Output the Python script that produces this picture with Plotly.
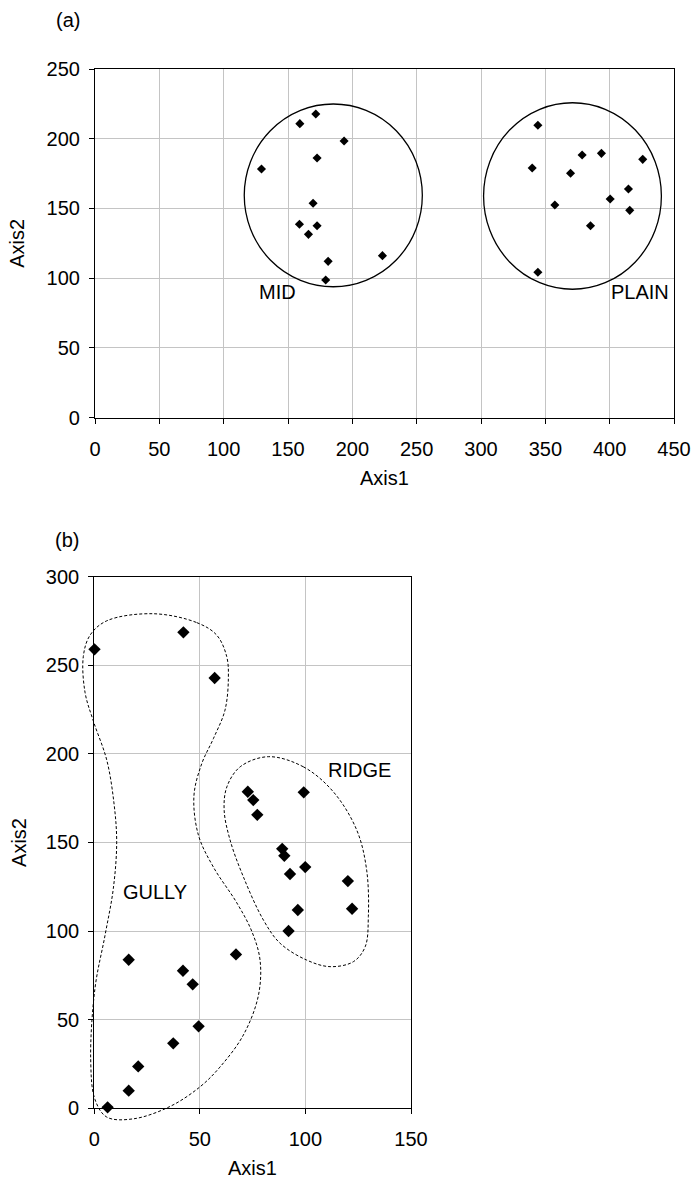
import plotly.graph_objects as go

# ---------------- data: panel (a) ----------------
MID_X = [171.6, 159.2, 193.6, 172.6, 129.4, 169.5, 158.9, 172.6, 165.9, 223.4, 181.2, 179.3]
MID_Y = [217.7, 210.8, 198.3, 186.2, 178.3, 153.7, 138.6, 137.6, 131.4, 116.1, 112.0, 98.6]
PLAIN_X = [344.2, 378.6, 393.6, 425.7, 339.8, 369.6, 414.6, 400.4, 415.6, 357.4, 385.1, 344.2]
PLAIN_Y = [209.6, 188.3, 189.5, 185.2, 179.0, 175.2, 163.9, 156.7, 148.6, 152.4, 137.6, 104.2]
# group boundary circles: [x0, x1, y0, y1]
MID_BOUNDS = [116.0, 254.4, 93.8, 224.9]
PLAIN_BOUNDS = [302.0, 440.2, 92.0, 225.8]

# ---------------- data: panel (b) ----------------
GULLY_X = [0.1, 42.2, 57.0, 16.3, 42.0, 46.6, 67.1, 49.4, 37.4, 20.8, 16.3, 6.3]
GULLY_Y = [259.0, 268.6, 242.8, 83.8, 77.6, 69.9, 86.8, 46.2, 36.6, 23.6, 9.9, 0.5]
RIDGE_X = [72.7, 75.3, 77.2, 99.2, 89.0, 90.0, 99.9, 92.7, 120.1, 96.4, 92.0, 122.1]
RIDGE_Y = [178.6, 173.9, 165.6, 178.3, 146.4, 142.5, 136.1, 132.2, 128.2, 111.9, 100.0, 112.6]

# group boundary outlines (dashed)
GULLY_CX = [27.9, 48.5, 58.0, 62.7, 63.5, 61.9, 56.4, 50.9, 47.2, 49.3, 56.4, 67.5, 74.6,
            78.5, 77.7, 70.6, 59.5, 50.1, 35.9, 18.5, 5.9, 0.3, -1.7, 0.3, 5.1, 9.0, 10.6,
            9.3, 5.9, -0.5, -4.4, -5.2, -2.0, 5.9]
GULLY_CY = [279.1, 274.1, 267.0, 255.0, 242.8, 224.7, 208.6, 194.5, 176.4, 154.2, 136.1,
            115.9, 99.8, 83.6, 63.5, 41.3, 23.2, 12.1, 1.0, -6.0, -5.0, 5.0, 27.2, 67.5,
            97.7, 123.9, 150.2, 172.3, 196.5, 218.7, 234.8, 255.0, 267.0, 275.1]
RIDGE_CX = [82.4, 99.0, 113.2, 124.3, 129.0, 129.8, 128.3, 122.7, 111.7, 100.6, 88.0, 80.1,
            70.6, 64.3, 61.5, 62.8, 69.1]
RIDGE_CY = [198.4, 192.7, 178.6, 157.0, 134.4, 108.1, 91.1, 82.7, 79.9, 83.6, 93.1, 106.2,
            130.6, 151.4, 168.3, 181.4, 192.7]

A_XRANGE, A_YRANGE = [0, 450], [0, 250]
B_XRANGE, B_YRANGE = [0, 150], [0, 300]

# ---------------- layout geometry (pixels) ----------------
W, H = 697, 1180
A_PX = [95, 674]
A_PY = [69, 417.5]
B_PX = [94.3, 411]
B_PY = [576.7, 1108.2]
FONT = "Liberation Sans, Arial, sans-serif"
FS = 20


def dx(a, b):
    return [a / W, b / W]


def dy(top, bottom):
    return [1 - bottom / H, 1 - top / H]


# extended (unclipped) axes for panel (b) outlines, same scale as panel (b)
EXT_X = [-15, 165]
EXT_Y = [-20, 320]
sx = (B_PX[1] - B_PX[0]) / (B_XRANGE[1] - B_XRANGE[0])
sy = (B_PY[1] - B_PY[0]) / (B_YRANGE[1] - B_YRANGE[0])
EXT_PX = [B_PX[0] + (EXT_X[0] - B_XRANGE[0]) * sx, B_PX[1] + (EXT_X[1] - B_XRANGE[1]) * sx]
EXT_PY = [B_PY[0] - (EXT_Y[1] - B_YRANGE[1]) * sy, B_PY[1] - (EXT_Y[0] - B_YRANGE[0]) * sy]

fig = go.Figure()

diamond_a = dict(symbol="diamond", size=7, color="black", line=dict(width=0))
diamond_b = dict(symbol="diamond", size=9.5, color="black", line=dict(width=0))

fig.add_trace(go.Scatter(x=MID_X, y=MID_Y, mode="markers", marker=diamond_a,
                         xaxis="x", yaxis="y", showlegend=False, cliponaxis=False))
fig.add_trace(go.Scatter(x=PLAIN_X, y=PLAIN_Y, mode="markers", marker=diamond_a,
                         xaxis="x", yaxis="y", showlegend=False, cliponaxis=False))

fig.add_trace(go.Scatter(x=GULLY_X, y=GULLY_Y, mode="markers", marker=diamond_b,
                         xaxis="x2", yaxis="y2", showlegend=False, cliponaxis=False))
fig.add_trace(go.Scatter(x=RIDGE_X, y=RIDGE_Y, mode="markers", marker=diamond_b,
                         xaxis="x2", yaxis="y2", showlegend=False, cliponaxis=False))

outline = dict(color="black", width=1, dash="3px,2px", shape="spline", smoothing=1.0)
fig.add_trace(go.Scatter(x=GULLY_CX + GULLY_CX[:1], y=GULLY_CY + GULLY_CY[:1], mode="lines",
                         line=outline, xaxis="x3", yaxis="y3", showlegend=False,
                         hoverinfo="skip"))
fig.add_trace(go.Scatter(x=RIDGE_CX + RIDGE_CX[:1], y=RIDGE_CY + RIDGE_CY[:1], mode="lines",
                         line=outline, xaxis="x3", yaxis="y3", showlegend=False,
                         hoverinfo="skip"))

for b in (MID_BOUNDS, PLAIN_BOUNDS):
    fig.add_shape(type="circle", xref="x", yref="y", x0=b[0], x1=b[1], y0=b[2], y1=b[3],
                  line=dict(color="black", width=1.3), layer="above")

axis_common = dict(
    showgrid=True, gridcolor="#c4c4c4", gridwidth=1.3,
    showline=True, linecolor="black", linewidth=1.2, mirror=True,
    ticks="outside", ticklen=5, tickcolor="black", tickwidth=1.2,
    zeroline=False, tickfont=dict(family=FONT, size=FS, color="black"),
    automargin=False, fixedrange=True,
)

fig.update_layout(
    width=W, height=H,
    margin=dict(l=0, r=0, t=0, b=0),
    paper_bgcolor="white", plot_bgcolor="rgba(0,0,0,0)",
    font=dict(family=FONT, size=FS, color="black"),
    xaxis=dict(domain=dx(*A_PX), range=A_XRANGE, dtick=50, anchor="y",
               ticklabelstandoff=8, **axis_common),
    yaxis=dict(domain=dy(*A_PY), range=A_YRANGE, dtick=50, anchor="x",
               ticklabelstandoff=5, **axis_common),
    xaxis2=dict(domain=dx(*B_PX), range=B_XRANGE, dtick=50, anchor="y2",
                ticklabelstandoff=8, **axis_common),
    yaxis2=dict(domain=dy(*B_PY), range=B_YRANGE, dtick=50, anchor="x2",
                ticklabelstandoff=5, **axis_common),
    xaxis3=dict(domain=dx(*EXT_PX), range=EXT_X, anchor="y3", visible=False,
                fixedrange=True),
    yaxis3=dict(domain=dy(*EXT_PY), range=EXT_Y, anchor="x3", visible=False,
                fixedrange=True),
)

ann_font = dict(family=FONT, size=FS, color="black")
annotations = [
    dict(text="MID", x=142, y=90, xref="x", yref="y"),
    dict(text="PLAIN", x=423.7, y=90, xref="x", yref="y"),
    dict(text="GULLY", x=28.8, y=122, xref="x2", yref="y2"),
    dict(text="RIDGE", x=125.6, y=191, xref="x2", yref="y2"),
    dict(text="(a)", x=68 / W, y=1 - 20 / H, xref="paper", yref="paper"),
    dict(text="(b)", x=67 / W, y=1 - 540 / H, xref="paper", yref="paper"),
    dict(text="Axis2", x=17.5 / W, y=1 - (A_PY[0] + A_PY[1]) / 2 / H, xref="paper",
         yref="paper", textangle=-90),
    dict(text="Axis1", x=(A_PX[0] + A_PX[1]) / 2 / W, y=1 - 478 / H, xref="paper",
         yref="paper"),
    dict(text="Axis2", x=19.5 / W, y=1 - (B_PY[0] + B_PY[1]) / 2 / H, xref="paper",
         yref="paper", textangle=-90),
    dict(text="Axis1", x=(B_PX[0] + B_PX[1]) / 2 / W, y=1 - 1168 / H, xref="paper",
         yref="paper"),
]
for a in annotations:
    a.update(showarrow=False, font=ann_font, xanchor="center", yanchor="middle")
    fig.add_annotation(**a)

fig.write_html("out.html")
